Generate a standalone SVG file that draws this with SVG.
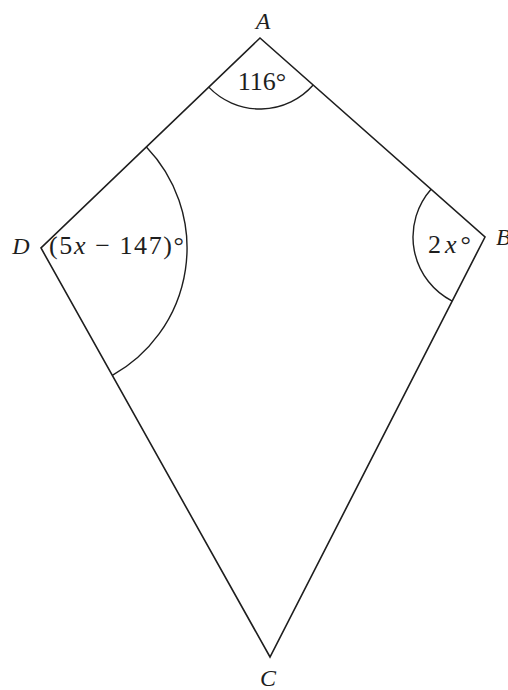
<svg xmlns="http://www.w3.org/2000/svg" width="508" height="690" viewBox="0 0 508 690">
<style>
.edge{fill:none;stroke:#1e1e1e;stroke-width:1.6;stroke-linejoin:miter}
.arc{fill:none;stroke:#1e1e1e;stroke-width:1.4}
text{font-family:"Liberation Serif","DejaVu Serif",serif;fill:#1e1e1e}
.v{font-style:italic;font-size:24px}
.lab{font-size:26px}
.it{font-style:italic}
</style>
<rect width="508" height="690" fill="#ffffff"/>
<g id="edges">
<path class="edge" d="M260,38 L485,237 L270,657 L41,248 Z"/>
</g>
<g id="angles">
<path class="arc" d="M208.75,87.14 A71,71 0 0,0 313.2,85.04"/>
<path class="arc" d="M146.4,146.95 A146,146 0 0,1 112.33,375.4"/>
<path class="arc" d="M431.07,189.3 A72,72 0 0,0 452.2,301.1"/>
</g>
<g id="vertexA"><text class="v" x="263" y="29" text-anchor="middle">A</text></g>
<g id="vertexB"><text class="v" x="496" y="245">B</text></g>
<g id="vertexC"><text class="v" x="268" y="686" text-anchor="middle">C</text></g>
<g id="vertexD"><text class="v" x="21" y="254" text-anchor="middle">D</text></g>
<g id="angleA"><text class="lab" x="262" y="90" text-anchor="middle">116°</text></g>
<g id="angleD"><text class="lab" x="49" y="254" textLength="135">(5<tspan class="it">x</tspan> − 147)°</text></g>
<g id="angleB"><text class="lab" x="428" y="253" textLength="43">2<tspan class="it">x</tspan>°</text></g>
</svg>
